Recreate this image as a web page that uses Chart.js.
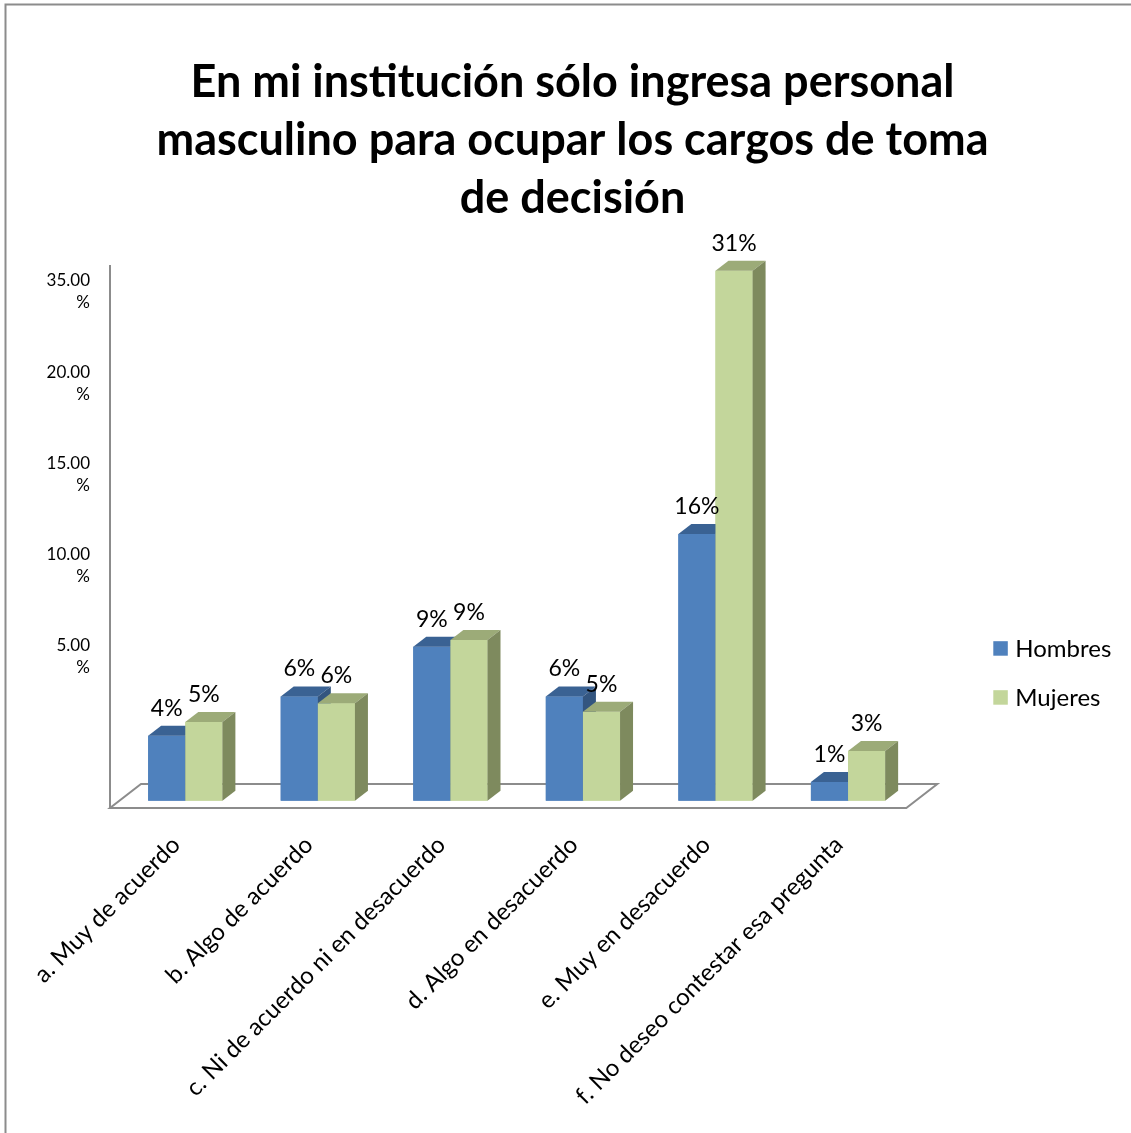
<!DOCTYPE html>
<html><head><meta charset="utf-8">
<script src="https://cdn.jsdelivr.net/npm/chart.js@4/dist/chart.umd.min.js"></script>
<style>html,body{margin:0;padding:0;background:#fff;}#wrap{position:relative;width:1131px;height:1133px;}</style>
</head><body><div id="wrap"><canvas id="c" width="1131" height="1133"></canvas></div>
<script>
// ---- data ----
const categories = ["a. Muy de acuerdo", "b. Algo de acuerdo", "c. Ni de acuerdo ni en desacuerdo", "d. Algo en desacuerdo", "e. Muy en desacuerdo", "f. No deseo contestar esa pregunta"];
const seriesNames = ["Hombres", "Mujeres"];
const hombres = [3.8, 6.1, 9.0, 6.1, 15.6, 1.1];
const mujeres = [4.6, 5.7, 9.4, 5.2, 31.0, 2.9];
const tickValues = [5, 10, 15, 20, 25];
const tickLabels = [["5.00", "%"], ["10.00", "%"], ["15.00", "%"], ["20.00", "%"], ["35.00", "%"]];
const titleLines = ["En mi institución sólo ingresa personal", "masculino para ocupar los cargos de toma", "de decisión"];

// ---- style ----
const FONT = "Lato, 'Open Sans', sans-serif";
const frontColors = ["#4F81BD", "#C3D69B"];
const topColors = ["#3A6293", "#9CAB78"];
const sideColors = ["#33557F", "#7E8A5E"];
const DX = 13, DY = 10;
const LABEL_FONT = 23;
const LEGEND_FONT = 24;

const threeD = {
  id: 'threeD',
  beforeDraw(chart) {
    const ctx = chart.ctx;
    ctx.save();
    ctx.fillStyle = '#fff';
    ctx.fillRect(0, 0, chart.width, chart.height);
    ctx.strokeStyle = '#8c8c8c';
    ctx.lineWidth = 2;
    ctx.beginPath();
    ctx.moveTo(5.5, chart.height); ctx.lineTo(5.5, 4.5); ctx.lineTo(chart.width, 4.5);
    ctx.stroke();
    ctx.restore();
  },
  beforeDatasetsDraw(chart) {
    const ctx = chart.ctx, a = chart.chartArea;
    ctx.save();
    ctx.strokeStyle = '#8c8c8c';
    ctx.lineWidth = 2;
    const fl = a.left - 9, fr = a.right - 8, fb = a.bottom + 7.3;
    ctx.beginPath();
    ctx.moveTo(fl, a.top); ctx.lineTo(fl, fb);
    ctx.stroke();
    ctx.beginPath();
    ctx.moveTo(fl, fb);
    ctx.lineTo(fr, fb); ctx.lineTo(fr + 31, fb - 24); ctx.lineTo(fl + 31, fb - 24); ctx.closePath();
    ctx.stroke();
    ctx.restore();
  },
  afterDatasetsDraw(chart) {
    const ctx = chart.ctx;
    const metas = chart.data.datasets.map((d, i) => chart.getDatasetMeta(i));
    const n = chart.data.labels.length;
    const poly = (pts, color) => {
      ctx.fillStyle = color; ctx.beginPath();
      pts.forEach((p, k) => k ? ctx.lineTo(p[0], p[1]) : ctx.moveTo(p[0], p[1]));
      ctx.closePath(); ctx.fill();
    };
    ctx.save();
    for (let i = 0; i < n; i++) {
      metas.forEach((meta, d) => {
        const el = meta.data[i];
        el.draw(ctx);
        const {x, y, base, width} = el.getProps(['x', 'y', 'base', 'width'], true);
        const l = x - width / 2, r = x + width / 2;
        poly([[l, y], [r, y], [r + DX, y - DY], [l + DX, y - DY]], topColors[d]);
        poly([[r, y], [r + DX, y - DY], [r + DX, base - DY], [r, base]], sideColors[d]);
      });
    }
    // data labels
    ctx.fillStyle = '#000';
    ctx.font = LABEL_FONT + 'px ' + FONT;
    ctx.textAlign = 'center';
    ctx.textBaseline = 'alphabetic';
    metas.forEach((meta, d) => {
      meta.data.forEach((el, i) => {
        const v = chart.data.datasets[d].data[i];
        ctx.fillText(Math.round(v) + '%', el.x, el.y - 20);
      });
    });
    // legend
    const a = chart.chartArea;
    const lx = a.right + 79, ly = a.bottom - 128;
    ctx.font = LEGEND_FONT + 'px ' + FONT;
    chart.data.datasets.forEach((ds, d) => {
      const cy = ly + (d - 0.5) * 49;
      ctx.fillStyle = ds.backgroundColor;
      ctx.fillRect(lx, cy - 7, 14.5, 14.5);
      ctx.fillStyle = '#000';
      ctx.textAlign = 'left';
      ctx.textBaseline = 'middle';
      ctx.fillText(ds.label, lx + 22, cy + 1);
    });
    ctx.restore();
  }
};

new Chart(document.getElementById('c'), {
  type: 'bar',
  data: {
    labels: categories,
    datasets: [
      {label: seriesNames[0], data: hombres, backgroundColor: frontColors[0], yAxisID: 'y', categoryPercentage: 0.56, barPercentage: 1},
      {label: seriesNames[1], data: mujeres, backgroundColor: frontColors[1], yAxisID: 'y', categoryPercentage: 0.56, barPercentage: 1}
    ]
  },
  options: {
    responsive: false, animation: false, devicePixelRatio: 1,
    layout: {padding: {left: 14, right: 0, top: 0, bottom: 0}},
    plugins: {
      legend: {display: false},
      tooltip: {enabled: false},
      title: {
        display: true, text: titleLines, color: '#000',
        font: {family: FONT, size: 45, weight: 'bold', lineHeight: 58 / 45},
        padding: {top: 53, bottom: 38}
      }
    },
    scales: {
      x: {
        grid: {display: false}, border: {display: false},
        ticks: {maxRotation: 45, minRotation: 45, autoSkip: false, padding: 22, labelOffset: -9, color: '#000', font: {family: FONT, size: 24}},
        afterFit: s => { s.height = 332.3; }
      },
      yl: {
        position: 'left', min: -2.874, max: 26.48,
        grid: {display: false}, border: {display: false},
        afterBuildTicks: s => { s.ticks = tickValues.map(v => ({value: v})); },
        ticks: {color: '#000', padding: 21, font: {family: FONT, size: 17, lineHeight: 22 / 17},
          callback: v => tickLabels[tickValues.indexOf(v)]},
        afterFit: s => { s.width = 105; }
      },
      y: {
        position: 'right', min: 0, max: 31.33,
        grid: {display: false}, border: {display: false}, ticks: {display: false},
        afterFit: s => { s.width = 216.7; }
      }
    }
  },
  plugins: [threeD]
});
</script></body></html>
